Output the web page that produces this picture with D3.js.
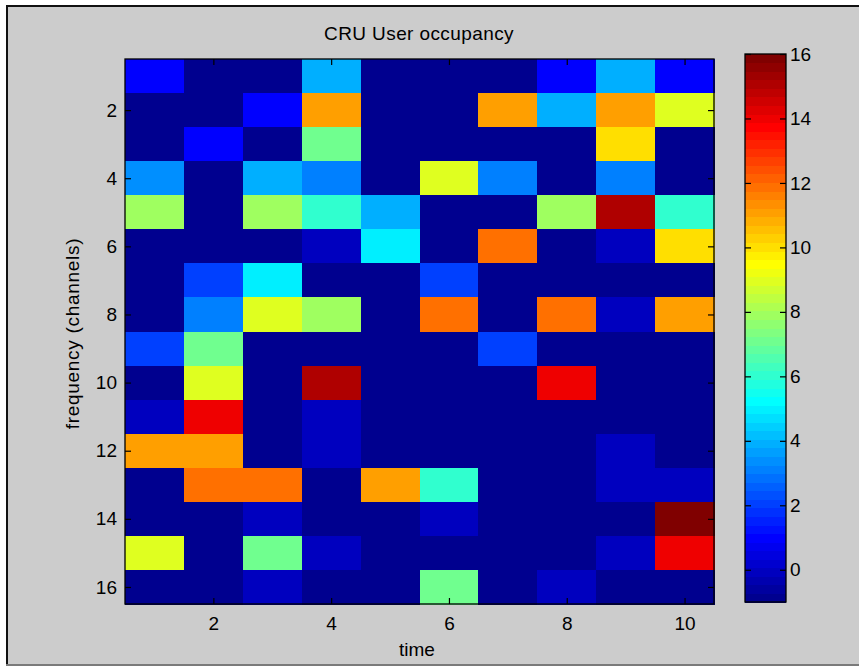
<!DOCTYPE html>
<html>
<head>
<meta charset="utf-8">
<script src="https://cdn.jsdelivr.net/npm/d3@7"></script>
<style>
  html, body { margin: 0; padding: 0; background: #ffffff; }
  svg { display: block; }
  text { font-family: "Liberation Sans", Arial, Helvetica, sans-serif; fill: #000; }
</style>
</head>
<body>
<svg id="chart" width="859" height="666"></svg>
<script>
// Time slots (columns) and frequency channels (rows)
const timeSlots = [1, 2, 3, 4, 5, 6, 7, 8, 9, 10];
const channels = [1, 2, 3, 4, 5, 6, 7, 8, 9, 10, 11, 12, 13, 14, 15, 16];

// Occupancy per channel, one array per channel row (values for time 1..10)
const ch01 = [1, -1, -1, 4, -1, -1, -1, 1, 4, 1];
const ch02 = [-1, -1, 1, 11, -1, -1, 11, 4, 11, 9];
const ch03 = [-1, 1, -1, 7, -1, -1, -1, -1, 10, -1];
const ch04 = [3.5, -1, 4, 3, -1, 9, 3, -1, 3, -1];
const ch05 = [8, -1, 8, 6, 4, -1, -1, 8, 15, 6];
const ch06 = [-1, -1, -1, 0, 5, -1, 12, -1, 0, 10];
const ch07 = [-1, 2, 5, -1, -1, 2, -1, -1, -1, -1];
const ch08 = [-1, 3, 9, 8, -1, 12, -1, 12, 0, 11];
const ch09 = [2, 7, -1, -1, -1, -1, 2, -1, -1, -1];
const ch10 = [-1, 9, -1, 15, -1, -1, -1, 14, -1, -1];
const ch11 = [0, 14, -1, 0, -1, -1, -1, -1, -1, -1];
const ch12 = [11, 11, -1, 0, -1, -1, -1, -1, 0, -1];
const ch13 = [-1, 12, 12, -1, 11, 6, -1, -1, 0, 0];
const ch14 = [-1, -1, 0, -1, -1, 0, -1, -1, -1, 16];
const ch15 = [9, -1, 7, 0, -1, -1, -1, -1, 0, 14];
const ch16 = [-1, -1, 0, -1, -1, 7, -1, 0, -1, -1];
const occupancy = [ch01, ch02, ch03, ch04, ch05, ch06, ch07, ch08,
                   ch09, ch10, ch11, ch12, ch13, ch14, ch15, ch16];

// Tick labels
const xTicks = [2, 4, 6, 8, 10];
const yTicks = [2, 4, 6, 8, 10, 12, 14, 16];
const cTicks = [0, 2, 4, 6, 8, 10, 12, 14, 16];
const colorLimits = [-1, 16];

const titleText = "CRU User occupancy";
const xLabel = "time";
const yLabel = "frequency (channels)";

// 64-entry jet colormap
function jetColormap(m) {
  const n = Math.ceil(m / 4);
  const u = [];
  for (let i = 1; i <= n; i++) u.push(i / n);
  for (let i = 1; i < n; i++) u.push(1);
  for (let i = n; i >= 1; i--) u.push(i / n);
  const gStart = Math.ceil(n / 2) - (m % 4 === 1 ? 1 : 0);
  const r = new Array(m).fill(0), g = new Array(m).fill(0), b = new Array(m).fill(0);
  u.forEach((val, k) => {
    const gi = gStart + k;        // 0-based green index
    const ri = gi + n, bi = gi - n;
    if (gi >= 0 && gi < m) g[gi] = val;
    if (ri >= 0 && ri < m) r[ri] = val;
    if (bi >= 0 && bi < m) b[bi] = val;
  });
  return d3.range(m).map(i => d3.rgb(Math.round(r[i] * 255), Math.round(g[i] * 255), Math.round(b[i] * 255)).formatHex());
}
const jet = jetColormap(64);

const svg = d3.select("#chart");

// Figure window panel
svg.append("rect").attr("x", 7).attr("y", 6).attr("width", 860).attr("height", 658).attr("fill", "#cccccc");
svg.append("line").attr("x1", 6).attr("x2", 859).attr("y1", 6).attr("y2", 6).attr("stroke", "#111").attr("stroke-width", 2);
svg.append("line").attr("x1", 7).attr("x2", 7).attr("y1", 5).attr("y2", 664).attr("stroke", "#111").attr("stroke-width", 2);
svg.append("line").attr("x1", 6).attr("x2", 859).attr("y1", 665).attr("y2", 665).attr("stroke", "#7a7a7a").attr("stroke-width", 2);

// Main image axes
const plot = { left: 125, right: 714, top: 59, bottom: 604 };
const x = d3.scaleLinear().domain([0.5, timeSlots.length + 0.5]).range([plot.left, plot.right]);
const y = d3.scaleLinear().domain([0.5, channels.length + 0.5]).range([plot.top, plot.bottom]);
const color = d3.scaleQuantize().domain(colorLimits).range(jet);

const cells = [];
channels.forEach((ch, ri) => {
  timeSlots.forEach((t, ci) => cells.push({ t, ch, v: occupancy[ri][ci] }));
});

svg.append("g").selectAll("rect").data(cells).join("rect")
  .attr("x", d => x(d.t - 0.5))
  .attr("y", d => y(d.ch - 0.5))
  .attr("width", d => x(d.t + 0.5) - x(d.t - 0.5) + 0.5)
  .attr("height", d => y(d.ch + 0.5) - y(d.ch - 0.5) + 0.5)
  .attr("fill", d => color(d.v))
  .attr("shape-rendering", "crispEdges");

function styleAxis(g, fontSize) {
  g.select(".domain").remove();
  g.selectAll(".tick line").attr("stroke", "#000").attr("stroke-width", 1.2);
  g.selectAll(".tick text").attr("font-size", fontSize).attr("fill", "#000")
    .attr("font-family", '"Liberation Sans", Arial, sans-serif');
}

const tickFont = 19;
svg.append("g").attr("transform", `translate(0,${plot.bottom})`)
  .call(d3.axisBottom(x).tickValues(xTicks).tickSizeInner(-6).tickSizeOuter(0).tickPadding(13))
  .call(g => styleAxis(g, tickFont));
svg.append("g").attr("transform", `translate(0,${plot.top})`)
  .call(d3.axisTop(x).tickValues(xTicks).tickSizeInner(-6).tickSizeOuter(0).tickFormat(""))
  .call(g => styleAxis(g, tickFont));
svg.append("g").attr("transform", `translate(${plot.left},0)`)
  .call(d3.axisLeft(y).tickValues(yTicks).tickSizeInner(-6).tickSizeOuter(0).tickPadding(8))
  .call(g => styleAxis(g, tickFont));
svg.append("g").attr("transform", `translate(${plot.right},0)`)
  .call(d3.axisRight(y).tickValues(yTicks).tickSizeInner(-6).tickSizeOuter(0).tickFormat(""))
  .call(g => styleAxis(g, tickFont));

svg.append("rect")
  .attr("x", plot.left).attr("y", plot.top)
  .attr("width", plot.right - plot.left).attr("height", plot.bottom - plot.top)
  .attr("fill", "none").attr("stroke", "#000").attr("stroke-width", 1.3);

// Colorbar
const cb = { left: 745, right: 786, top: 54, bottom: 602 };
const yc = d3.scaleLinear().domain(colorLimits).range([cb.bottom, cb.top]);
const step = (colorLimits[1] - colorLimits[0]) / jet.length;
svg.append("g").selectAll("rect").data(jet).join("rect")
  .attr("x", cb.left)
  .attr("width", cb.right - cb.left)
  .attr("y", (c, i) => yc(colorLimits[0] + (i + 1) * step))
  .attr("height", (c, i) => yc(colorLimits[0] + i * step) - yc(colorLimits[0] + (i + 1) * step) + 0.6)
  .attr("fill", c => c)
  .attr("shape-rendering", "crispEdges");

svg.append("g").attr("transform", `translate(${cb.left},0)`)
  .call(d3.axisLeft(yc).tickValues(cTicks).tickSizeInner(-6).tickSizeOuter(0).tickFormat(""))
  .call(g => styleAxis(g, tickFont));
svg.append("g").attr("transform", `translate(${cb.right},0)`)
  .call(d3.axisRight(yc).tickValues(cTicks).tickSizeInner(-6).tickSizeOuter(0).tickPadding(4))
  .call(g => styleAxis(g, tickFont));
svg.append("rect")
  .attr("x", cb.left).attr("y", cb.top)
  .attr("width", cb.right - cb.left).attr("height", cb.bottom - cb.top)
  .attr("fill", "none").attr("stroke", "#000").attr("stroke-width", 1.3);

// Title and axis labels
svg.append("text").attr("x", 419).attr("y", 40).attr("text-anchor", "middle")
  .attr("font-size", 19).attr("letter-spacing", 0.4).text(titleText);
svg.append("text").attr("x", 417).attr("y", 656).attr("text-anchor", "middle")
  .attr("font-size", 19).text(xLabel);
svg.append("text").attr("transform", "translate(79,333.5) rotate(-90)").attr("text-anchor", "middle")
  .attr("font-size", 19).attr("letter-spacing", 0.7).text(yLabel);
</script>
</body>
</html>
